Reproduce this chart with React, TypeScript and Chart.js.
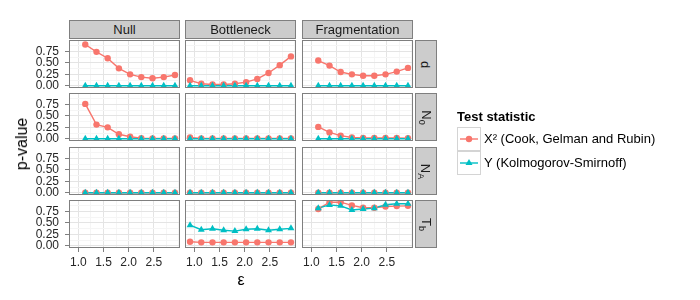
import React, { useEffect, useRef } from 'react';
import { Chart, registerables } from 'chart.js';

Chart.register(...registerables);

// ---------- data ----------
const epsilon = [0.915, 1.138, 1.361, 1.583, 1.806, 2.029, 2.251, 2.474, 2.697, 2.92];
const scenarios = ['Null', 'Bottleneck', 'Fragmentation'];
const parameterNames = ['d', 'N', 'N', 'T'];
const parameterSubs = ['', '0', 'A', 'b'];
const statistics = ['X² (Cook, Gelman and Rubin)', 'Y (Kolmogorov-Smirnoff)'];
const xMajorTicks = [1.0, 1.5, 2.0, 2.5];
const xMinorTicks = [1.25, 1.75, 2.25, 2.75, 3.0];
const yMajorTicks = [0, 0.25, 0.5, 0.75];
const yMinorTicks = [0.125, 0.375, 0.625, 0.875];

// X² (Cook, Gelman and Rubin) p-values
const chiNullD = [null, 0.9, 0.74, 0.6, 0.38, 0.25, 0.19, 0.165, 0.19, 0.235];
const chiBottleneckD = [0.12, 0.045, 0.03, 0.03, 0.045, 0.08, 0.15, 0.28, 0.45, 0.64];
const chiFragD = [null, 0.55, 0.44, 0.3, 0.25, 0.22, 0.22, 0.25, 0.31, 0.39];
const chiNullN0 = [null, 0.76, 0.31, 0.25, 0.1, 0.045, 0.015, 0.01, 0.01, 0.01];
const chiBottleneckN0 = [0.03, 0.01, 0.01, 0.01, 0.01, 0.01, 0.01, 0.01, 0.01, 0.01];
const chiFragN0 = [null, 0.26, 0.14, 0.07, 0.03, 0.02, 0.02, 0.02, 0.02, 0.015];
const chiNullNA = [null, 0, 0, 0, 0, 0, 0, 0, 0, 0];
const chiBottleneckNA = [0, 0, 0, 0, 0, 0, 0, 0, 0, 0];
const chiFragNA = [null, 0, 0, 0, 0, 0, 0, 0, 0, 0];
const chiNullTb = [null, null, null, null, null, null, null, null, null, null];
const chiBottleneckTb = [0.09, 0.075, 0.075, 0.075, 0.075, 0.075, 0.075, 0.075, 0.075, 0.075];
const chiFragTb = [null, 0.8, 0.95, 0.95, 0.88, 0.83, 0.83, 0.855, 0.865, 0.87];

// Y (Kolmogorov-Smirnoff) p-values
const ksNullD = [null, 0, 0, 0, 0, 0, 0, 0, 0, 0];
const ksBottleneckD = [0, 0, 0, 0, 0, 0, 0, 0, 0, 0];
const ksFragD = [null, 0, 0, 0, 0, 0, 0, 0, 0, 0];
const ksNullN0 = [null, 0, 0, 0, 0, 0, 0, 0, 0, 0];
const ksBottleneckN0 = [0, 0, 0, 0, 0, 0, 0, 0, 0, 0];
const ksFragN0 = [null, 0, 0, 0, 0, 0, 0, 0, 0, 0];
const ksNullNA = [null, 0, 0, 0, 0, 0, 0, 0, 0, 0];
const ksBottleneckNA = [0, 0, 0, 0, 0, 0, 0, 0, 0, 0];
const ksFragNA = [null, 0, 0, 0, 0, 0, 0, 0, 0, 0];
const ksNullTb = [null, null, null, null, null, null, null, null, null, null];
const ksBottleneckTb = [0.45, 0.35, 0.37, 0.34, 0.32, 0.36, 0.37, 0.34, 0.36, 0.38];
const ksFragTb = [null, 0.82, 0.89, 0.87, 0.78, 0.8, 0.82, 0.895, 0.915, 0.915];

const chiRows = [
  [chiNullD, chiBottleneckD, chiFragD],
  [chiNullN0, chiBottleneckN0, chiFragN0],
  [chiNullNA, chiBottleneckNA, chiFragNA],
  [chiNullTb, chiBottleneckTb, chiFragTb],
];
const ksRows = [
  [ksNullD, ksBottleneckD, ksFragD],
  [ksNullN0, ksBottleneckN0, ksFragN0],
  [ksNullNA, ksBottleneckNA, ksFragNA],
  [ksNullTb, ksBottleneckTb, ksFragTb],
];

// ---------- layout / style ----------
const W = 700;
const H = 300;
const COL_X = [69, 185, 302];
const ROW_Y = [40, 93, 147, 200];
const PW = 111;
const PH = 48;
const Y_AXIS_W = 49;
const X_AXIS_H = 24;
const X_MIN = 0.815;
const X_MAX = 3.02;
const Y_MIN = -0.0475;
const Y_MAX = 0.9975;
const RED = '#F8766D';
const CYAN = '#00BFC4';
const GRID_MAJOR = '#e4e4e4';
const GRID_MINOR = '#f5f5f5';
const FRAME = '#7f7f7f';
const TICK_TEXT = '#262626';
const FONT = "'Liberation Sans', Arial, Helvetica, sans-serif";
const LINE_W = 1.4;

Chart.defaults.font.family = FONT;

const panelBorder = {
  id: 'panelBorder',
  afterDatasetsDraw(chart: any) {
    const { ctx, chartArea: a } = chart;
    ctx.save();
    ctx.strokeStyle = FRAME;
    ctx.lineWidth = 1;
    ctx.strokeRect(Math.round(a.left) + 0.5, Math.round(a.top) + 0.5, Math.round(a.right - a.left) - 1, Math.round(a.bottom - a.top) - 1);
    ctx.restore();
  },
};

const inList = (list: number[], v: number) => list.some((t) => Math.abs(t - v) < 1e-9);

function Panel({ row, col }: { row: number; col: number }) {
  const ref = useRef<HTMLCanvasElement | null>(null);
  useEffect(() => {
    const isLeft = col === 0;
    const isBottom = row === 3;
    const left = COL_X[col];
    const top = ROW_Y[row];
    const toPts = (arr: (number | null)[]) =>
      epsilon.map((x, i) => ({ x, y: arr[i] })).filter((p) => p.y !== null);
    const chiPts = toPts(chiRows[row][col]) as any;
    const ksPts = toPts(ksRows[row][col]) as any;
    const chart = new Chart(ref.current as HTMLCanvasElement, {
      type: 'line',
      data: {
        datasets: [
          // lines first (drawn underneath), then points (cyan above red)
          { label: statistics[0], data: chiPts, borderColor: RED, borderWidth: LINE_W, pointRadius: 0, tension: 0, order: 4 },
          { label: statistics[1], data: ksPts, borderColor: CYAN, borderWidth: LINE_W, pointRadius: 0, tension: 0, order: 3 },
          {
            label: statistics[0],
            data: chiPts,
            showLine: false,
            backgroundColor: RED,
            borderColor: RED,
            pointStyle: 'circle',
            pointRadius: 3.2,
            pointBorderWidth: 0,
            order: 2,
          },
          {
            label: statistics[1],
            data: ksPts,
            showLine: false,
            backgroundColor: CYAN,
            borderColor: CYAN,
            pointStyle: 'triangle',
            pointRadius: 4,
            pointBorderWidth: 0,
            order: 1,
          },
        ],
      },
      options: {
        animation: false,
        responsive: false,
        devicePixelRatio: 1,
        events: [],
        layout: {
          autoPadding: false,
          padding: {
            left: isLeft ? left - Y_AXIS_W : left,
            top,
            right: W - left - PW,
            bottom: isBottom ? H - top - PH - X_AXIS_H : H - top - PH,
          },
        },
        plugins: { legend: { display: false }, tooltip: { enabled: false } },
        scales: {
          x: {
            type: 'linear',
            min: X_MIN,
            max: X_MAX,
            bounds: 'data',
            afterBuildTicks: (s: any) => {
              s.ticks = [...xMajorTicks, ...xMinorTicks].sort((a, b) => a - b).map((v) => ({ value: v }));
            },
            afterFit: (s: any) => {
              s.height = isBottom ? X_AXIS_H : 0;
            },
            border: { display: false },
            grid: {
              color: (c: any) => (c.tick && inList(xMajorTicks, c.tick.value) ? GRID_MAJOR : GRID_MINOR),
              tickColor: (c: any) => (c.tick && inList(xMajorTicks, c.tick.value) ? FRAME : 'rgba(0,0,0,0)'),
              lineWidth: 1,
              drawTicks: isBottom,
              tickLength: 4,
            },
            ticks: {
              display: isBottom,
              autoSkip: false,
              maxRotation: 0,
              minRotation: 0,
              padding: 3,
              color: TICK_TEXT,
              font: { size: 12, family: FONT },
              callback: (v: any) => (inList(xMajorTicks, Number(v)) ? Number(v).toFixed(1) : ''),
            },
          },
          y: {
            type: 'linear',
            min: Y_MIN,
            max: Y_MAX,
            bounds: 'data',
            afterBuildTicks: (s: any) => {
              s.ticks = [...yMajorTicks, ...yMinorTicks].sort((a, b) => a - b).map((v) => ({ value: v }));
            },
            afterFit: (s: any) => {
              s.width = isLeft ? Y_AXIS_W : 0;
            },
            border: { display: false },
            grid: {
              color: (c: any) => (c.tick && inList(yMajorTicks, c.tick.value) ? GRID_MAJOR : GRID_MINOR),
              tickColor: (c: any) => (c.tick && inList(yMajorTicks, c.tick.value) ? FRAME : 'rgba(0,0,0,0)'),
              lineWidth: 1,
              drawTicks: isLeft,
              tickLength: 4,
            },
            ticks: {
              display: isLeft,
              autoSkip: false,
              padding: 6,
              color: TICK_TEXT,
              font: { size: 12, family: FONT },
              callback: (v: any) => (inList(yMajorTicks, Number(v)) ? Number(v).toFixed(2) : ''),
            },
          },
        },
      } as any,
      plugins: [panelBorder],
    });
    return () => chart.destroy();
  }, [row, col]);
  return (
    <canvas
      ref={ref}
      width={W}
      height={H}
      style={{ position: 'absolute', left: 0, top: 0, width: W, height: H, pointerEvents: 'none' }}
    />
  );
}

const stripBase: React.CSSProperties = {
  position: 'absolute',
  boxSizing: 'border-box',
  background: '#cccccc',
  border: `1px solid ${FRAME}`,
  display: 'flex',
  alignItems: 'center',
  justifyContent: 'center',
  fontFamily: FONT,
  fontSize: 13,
  color: '#1a1a1a',
  whiteSpace: 'nowrap',
};

function LegendKey({ top, color, shape }: { top: number; color: string; shape: 'circle' | 'triangle' }) {
  return (
    <div
      style={{
        position: 'absolute',
        left: 457,
        top,
        width: 24,
        height: 24,
        boxSizing: 'border-box',
        border: '1px solid #d4d4d4',
        background: '#ffffff',
      }}
    >
      <svg width={22} height={22} style={{ position: 'absolute', left: 0, top: 0 }}>
        <line x1={2} y1={11} x2={20} y2={11} stroke={color} strokeWidth={LINE_W} />
        {shape === 'circle' ? (
          <circle cx={11} cy={11} r={3.2} fill={color} />
        ) : (
          <polygon points="11,7 14.5,13 7.5,13" fill={color} />
        )}
      </svg>
    </div>
  );
}

export default function App() {
  const panels: { row: number; col: number }[] = [];
  for (let r = 0; r < 4; r++) for (let c = 0; c < 3; c++) panels.push({ row: r, col: c });
  return (
    <div
      style={{
        position: 'fixed',
        left: 0,
        top: 0,
        width: W,
        height: H,
        background: '#ffffff',
        overflow: 'hidden',
        fontFamily: FONT,
      }}
    >
      {panels.map((p) => (
        <Panel key={`${p.row}-${p.col}`} row={p.row} col={p.col} />
      ))}
      {scenarios.map((s, c) => (
        <div key={s} style={{ ...stripBase, left: COL_X[c], top: 20, width: PW, height: 19 }}>
          {s}
        </div>
      ))}
      {parameterNames.map((n, r) => (
        <div key={r} style={{ ...stripBase, left: 415, top: ROW_Y[r], width: 22, height: PH }}>
          <span style={{ display: 'inline-block', transform: 'rotate(90deg)' }}>
            {n}
            {parameterSubs[r] ? (
              <span style={{ fontSize: 9, position: 'relative', top: 3 }}>{parameterSubs[r]}</span>
            ) : null}
          </span>
        </div>
      ))}
      <div
        style={{
          position: 'absolute',
          left: 22,
          top: 144,
          transform: 'translate(-50%, -50%) rotate(-90deg)',
          fontSize: 16,
          color: '#000',
          whiteSpace: 'nowrap',
        }}
      >
        p-value
      </div>
      <div
        style={{
          position: 'absolute',
          left: 241,
          top: 280,
          transform: 'translate(-50%, -50%)',
          fontSize: 16,
          color: '#000',
        }}
      >
        ε
      </div>
      <div style={{ position: 'absolute', left: 457, top: 109, fontSize: 13, fontWeight: 'bold', color: '#000', whiteSpace: 'nowrap' }}>
        Test statistic
      </div>
      <LegendKey top={127} color={RED} shape="circle" />
      <LegendKey top={151} color={CYAN} shape="triangle" />
      <div style={{ position: 'absolute', left: 484, top: 131, fontSize: 13, color: '#000', whiteSpace: 'nowrap' }}>
        {statistics[0]}
      </div>
      <div style={{ position: 'absolute', left: 484, top: 155, fontSize: 13, color: '#000', whiteSpace: 'nowrap' }}>
        {statistics[1]}
      </div>
    </div>
  );
}
